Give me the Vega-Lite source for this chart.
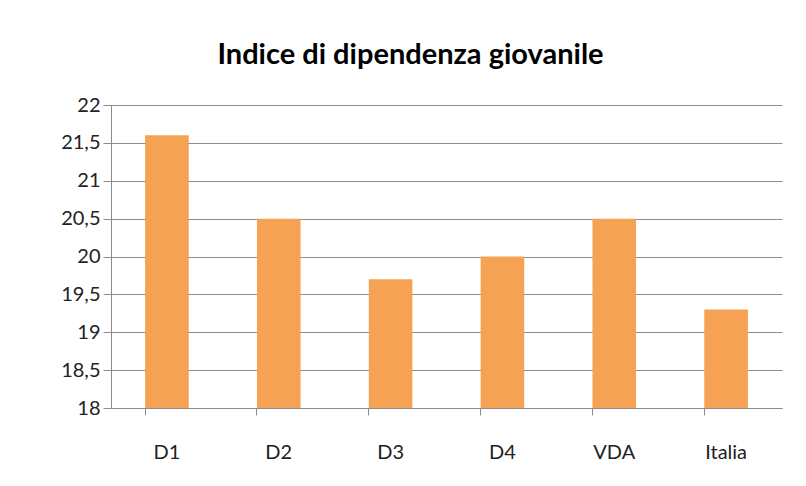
{
  "$schema": "https://vega.github.io/schema/vega-lite/v6.json",
  "autosize": "none",
  "width": 671,
  "height": 303,
  "padding": {"left": 111, "top": 105, "right": 24, "bottom": 78},
  "background": "white",
  "title": {
    "text": "Indice di dipendenza giovanile",
    "font": "Lato",
    "fontSize": 29,
    "fontWeight": "bold",
    "color": "#000000",
    "anchor": "middle",
    "dx": -36,
    "offset": 25
  },
  "data": {
    "values": [
      {"area": "D1", "valore": 21.6},
      {"area": "D2", "valore": 20.5},
      {"area": "D3", "valore": 19.7},
      {"area": "D4", "valore": 20.0},
      {"area": "VDA", "valore": 20.5},
      {"area": "Italia", "valore": 19.3}
    ]
  },
  "mark": {"type": "bar", "color": "#F6A254"},
  "encoding": {
    "x": {
      "field": "area",
      "type": "nominal",
      "sort": null,
      "title": null,
      "scale": {"paddingInner": 0.61, "paddingOuter": 0.305},
      "axis": {
        "labelAngle": 0,
        "labelFont": "Lato",
        "labelFontSize": 20,
        "labelColor": "#222222",
        "labelPadding": 27,
        "domainColor": "#8c8c8c",
        "tickColor": "#8c8c8c",
        "tickSize": 7,
        "bandPosition": 0,
        "grid": false
      }
    },
    "y": {
      "field": "valore",
      "type": "quantitative",
      "title": null,
      "scale": {"domain": [18, 22], "zero": false, "nice": false},
      "axis": {
        "values": [18, 18.5, 19, 19.5, 20, 20.5, 21, 21.5, 22],
        "labelExpr": "replace(toString(datum.value), '.', ',')",
        "labelFont": "Lato",
        "labelFontSize": 20,
        "labelColor": "#222222",
        "labelPadding": 3,
        "domainColor": "#8c8c8c",
        "tickColor": "#8c8c8c",
        "tickSize": 8,
        "gridColor": "#8c8c8c",
        "gridWidth": 1
      }
    },
    "y2": {"datum": 18}
  },
  "config": {"view": {"stroke": null}}
}
